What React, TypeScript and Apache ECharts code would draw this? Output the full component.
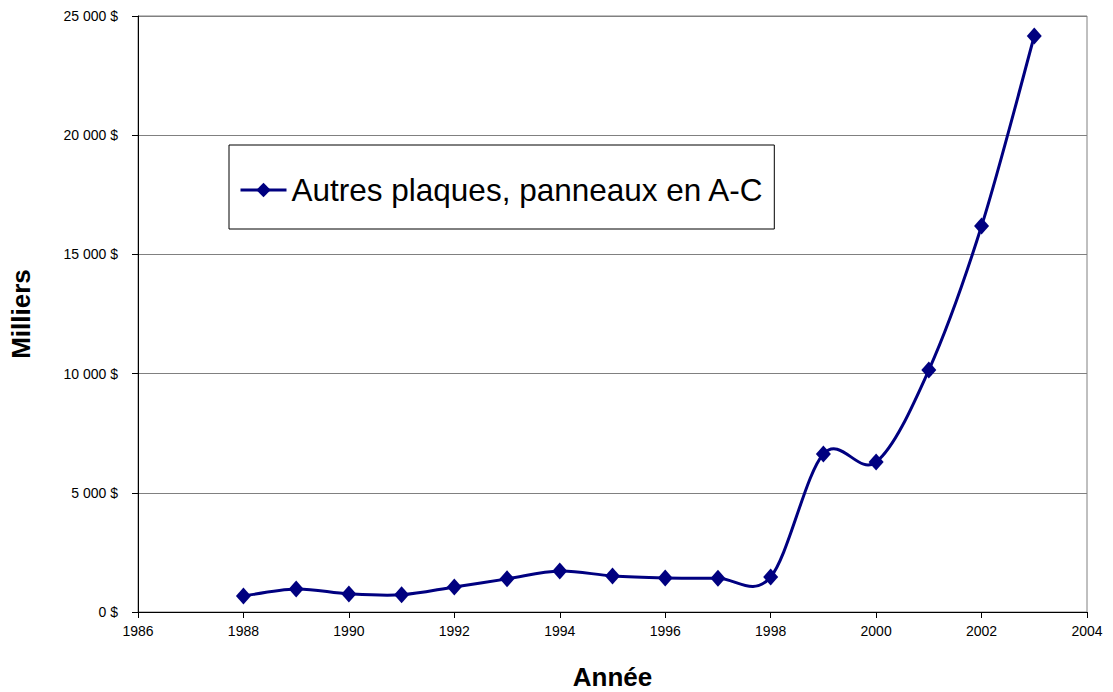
import React, { useEffect, useRef } from "react";
import * as echarts from "echarts";

const years = [1988, 1989, 1990, 1991, 1992, 1993, 1994, 1995, 1996, 1997, 1998, 1999, 2000, 2001, 2002, 2003];
const values = [670, 965, 760, 720, 1050, 1390, 1720, 1510, 1430, 1420, 1470, 6630, 6290, 10150, 16190, 24160];
const seriesName = "Autres plaques, panneaux en A-C";

const fmt = (v: number) => String(v).replace(/\B(?=(\d{3})+(?!\d))/g, " ") + " $";

export default function App() {
  const ref = useRef<HTMLDivElement>(null);
  useEffect(() => {
    const chart = echarts.init(ref.current!, undefined, { renderer: "svg" });
    const font = "Arial, 'Liberation Sans', sans-serif";
    const color = "#000080";
    const n = years.length;
    chart.setOption({
      animation: false,
      backgroundColor: "#fff",
      textStyle: { fontFamily: font },
      grid: {
        left: 138, right: 26, top: 16, bottom: 80,
        outerBoundsMode: "none",
        containLabel: false,
        show: true, borderColor: "#808080", borderWidth: 1,
      },
      legend: {
        left: 229,
        top: 145,
        padding: [29, 10, 23, 10],
        borderColor: "#000",
        borderWidth: 1,
        itemWidth: 46,
        itemHeight: 18,
        itemGap: 5,
        textStyle: { fontSize: 31.5, lineHeight: 32, color: "#000", fontFamily: font },
        data: [{ name: seriesName, lineStyle: { color, width: 3, opacity: 1 } }],
      },
      xAxis: {
        type: "value",
        min: 1986,
        max: 2004,
        interval: 2,
        name: "Année",
        nameLocation: "middle",
        nameGap: 52,
        nameTextStyle: { fontSize: 26, fontWeight: "bold", color: "#000", fontFamily: font },
        axisLine: { show: true, lineStyle: { color: "#000", width: 1 } },
        axisTick: { show: true, length: 6, lineStyle: { color: "#000" } },
        axisLabel: { fontSize: 14, color: "#000", margin: 12, formatter: (v: number) => String(v) },
        splitLine: { show: false },
      },
      yAxis: {
        type: "value",
        min: 0,
        max: 25000,
        interval: 5000,
        name: "Milliers",
        nameLocation: "middle",
        nameRotate: 90,
        nameGap: 104,
        nameTextStyle: { fontSize: 26, fontWeight: "bold", color: "#000", fontFamily: font },
        axisLine: { show: true, lineStyle: { color: "#000", width: 1 } },
        axisTick: { show: true, length: 6, lineStyle: { color: "#000" } },
        axisLabel: { fontSize: 14, color: "#000", margin: 20, formatter: fmt },
        splitLine: { show: true, lineStyle: { color: "#808080", width: 1 } },
      },
      series: [
        {
          name: "curve",
          type: "custom",
          z: 1,
          silent: true,
          data: years.map((y, i) => [y, values[i]]),
          encode: { x: 0, y: 1 },
          renderItem: (params: any, api: any) => {
            const i = params.dataIndex;
            if (i >= n - 1) return null;
            const pt = (j: number) => api.coord([years[j], values[j]]);
            const p0 = pt(Math.max(0, i - 1));
            const p1 = pt(i);
            const p2 = pt(i + 1);
            const p3 = pt(Math.min(n - 1, i + 2));
            return {
              type: "bezierCurve",
              shape: {
                x1: p1[0],
                y1: p1[1],
                x2: p2[0],
                y2: p2[1],
                cpx1: p1[0] + (p2[0] - p0[0]) / 6,
                cpy1: p1[1] + (p2[1] - p0[1]) / 6,
                cpx2: p2[0] - (p3[0] - p1[0]) / 6,
                cpy2: p2[1] - (p3[1] - p1[1]) / 6,
              },
              style: { stroke: color, lineWidth: 3, fill: "none" },
            };
          },
        },
        {
          name: seriesName,
          type: "line",
          z: 3,
          data: years.map((y, i) => [y, values[i]]),
          symbol: "diamond",
          symbolSize: [15, 17],
          lineStyle: { color, width: 3, opacity: 0 },
          itemStyle: { color },
        },
      ],
    });
    return () => chart.dispose();
  }, []);
  return <div ref={ref} style={{ position: "fixed", left: 0, top: 0, width: 1113, height: 692 }} />;
}
